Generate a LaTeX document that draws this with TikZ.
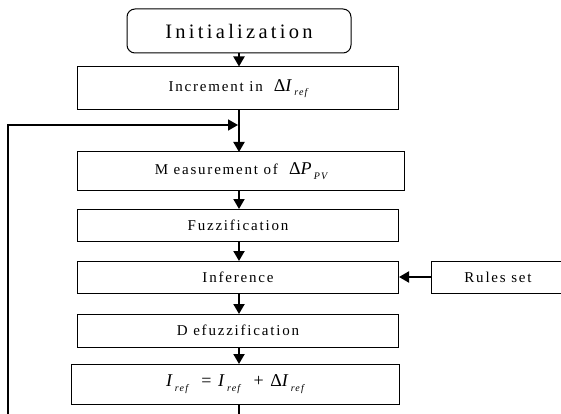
\documentclass[tikz,border=0pt]{standalone}
\usepackage{fontspec}
\setmainfont{Liberation Serif}[LetterSpace=12]
\usetikzlibrary{arrows.meta,positioning}
\newcommand{\ix}[1]{\raisebox{-4.5pt}{\fontsize{10}{10}\selectfont\itshape #1}}
\begin{document}
\begin{tikzpicture}[
        x=1pt, y=1pt,
        stepbox/.style={draw, line width=1pt, rectangle, minimum height=32pt, inner sep=0pt,
            font=\fontsize{15}{15}\selectfont},
        startbox/.style={draw, line width=1pt, rectangle, rounded corners=8pt, inner sep=0pt,
            minimum width=224pt, minimum height=44pt,
            font=\fontsize{20.5}{20.5}\selectfont\addfontfeatures{LetterSpace=16}},
        flow/.style={draw, line width=2pt, -{Triangle[length=10pt,width=11pt]}},
        loop/.style={draw, line width=1.6pt},
    ]
    \useasboundingbox (0,0) rectangle (561,-414);
    \node[startbox](init) at (239,-31){Initialization};
    \node[stepbox, minimum width=321pt, minimum height=43pt](incr) at (238,-88.5)
        {Increment in \ {\fontsize{18}{18}\selectfont Δ\textit{I}}\ix{ref}};
    \node[stepbox, minimum width=327pt, minimum height=39pt](meas) at (241,-171)
        {M easurement of \ {\fontsize{18}{18}\selectfont Δ\textit{P}}\ix{PV}};
    \node[stepbox, minimum width=321pt](fuzz) at (238,-225){Fuzzification};
    \node[stepbox, minimum width=321pt](infer) at (238,-277){Inference};
    \node[stepbox, minimum width=134pt](rules) at (498,-277){Rules set};
    \node[stepbox, minimum width=321pt, minimum height=33pt](defuzz) at (238,-330.5){D efuzzification};
    \node[stepbox, minimum width=328pt, minimum height=40pt,
        font=\fontsize{18}{18}\selectfont](iref) at (235,-384)
        {\textit{I}\ix{ref} \ = \textit{I}\ix{ref} \ + Δ\textit{I}\ix{ref}};

    \draw[flow] (init) -- (init.south |- incr.north);
    \draw[flow] (239,-110) -- (239,-152);
    \draw[flow] (239,-191) -- (239,-209);
    \draw[flow] (239,-241) -- (239,-261);
    \draw[flow] (239,-293) -- (239,-314);
    \draw[flow] (239,-347) -- (239,-364);
    \draw[flow] (rules) -- (infer);

    % feedback loop, runs out of the picture at the bottom
    \coordinate (lbot) at (8,-414);
    \coordinate (rbot) at (239,-414);
    \coordinate (join) at (238,-125);
    \draw[loop] (239,-404) -- (rbot);
    \draw[loop, -{Triangle[length=10pt,width=11pt]}] (lbot) |- (join);
\end{tikzpicture}
\end{document}
